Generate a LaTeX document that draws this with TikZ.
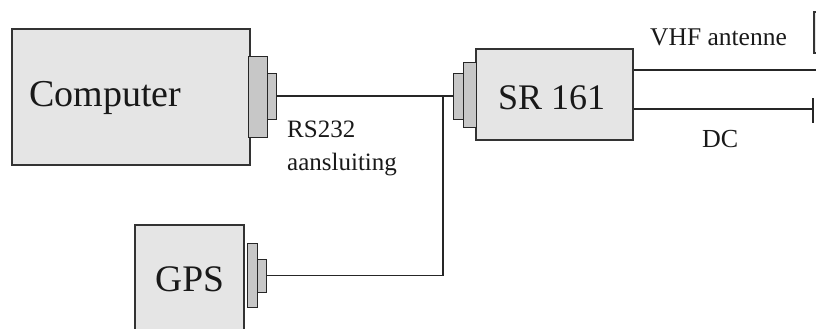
\documentclass[tikz,border=0pt]{standalone}
\usepackage{fontspec}
\setmainfont{Liberation Serif}
\begin{document}
\begin{tikzpicture}[x=1pt,y=-1pt,
  box/.style={draw=black!80, line width=1.2pt, fill=black!10, inner sep=0pt, rectangle},
  plug/.style={draw=black!85, line width=1pt, fill=black!22, inner sep=0pt, rectangle},
  wire/.style={draw=black!85, line width=1.1pt},
  lbl/.style={anchor=base west, inner sep=0pt, text=black!90},
  big/.style={font=\fontsize{38}{40}\selectfont},
  small/.style={font=\fontsize{25}{27}\selectfont}]
\useasboundingbox (0,0) rectangle (816,329);
% boxes
\node[box, minimum width=238pt, minimum height=136pt] (comp) at (131,97) {};
\node[plug, minimum width=19pt, minimum height=80pt] (compbig) at (257.5,97) {};
\node[plug, minimum width=9pt, minimum height=46pt] (compsm) at (271.5,96) {};
\node[box, minimum width=157pt, minimum height=91pt] (sr) at (554.5,94.5) {};
\node[plug, minimum width=13pt, minimum height=64pt] (srbig) at (469.5,95) {};
\node[plug, minimum width=10pt, minimum height=46pt] (srsm) at (458,96) {};
\node[box, minimum width=109pt, minimum height=120pt] (gps) at (189.5,285) {};
\node[plug, minimum width=10pt, minimum height=64pt] (gpsbig) at (252,275) {};
\node[plug, minimum width=9pt, minimum height=33pt] (gpssm) at (261.5,275.5) {};
\node[box, minimum width=10pt, minimum height=41pt] (ant) at (819,32.5) {};
% labels
\node[lbl, big] (tcomp) at (29,106) {Computer};
\node[lbl, big, font=\fontsize{36}{38}\selectfont] (tsr) at (498,109) {SR 161};
\node[lbl, big, font=\fontsize{37.5}{40}\selectfont] (tgps) at (155,291) {GPS};
\node[lbl, small] (trs) at (287,137) {RS232};
\node[lbl, small] (taans) at (287,170) {aansluiting};
\node[lbl, small, font=\fontsize{25.5}{27}\selectfont] (tvhf) at (650,46) {VHF antenne};
\node[lbl, small, font=\fontsize{26}{27}\selectfont] (tdc) at (702,147) {DC};
% wires
\coordinate (j) at (443,96);
\draw[wire] (compsm.east) -- (srsm.west);
\draw[wire] (j) |- (gpssm.east);
\coordinate (vhfend) at (816,70);
\draw[wire] (sr.east |- vhfend) -- (vhfend);
\coordinate (dcend) at (813,109);
\draw[wire] (sr.east |- dcend) -- (dcend);
\draw[wire] (dcend) ++(0,-11) -- ++(0,25);
\end{tikzpicture}
\end{document}
